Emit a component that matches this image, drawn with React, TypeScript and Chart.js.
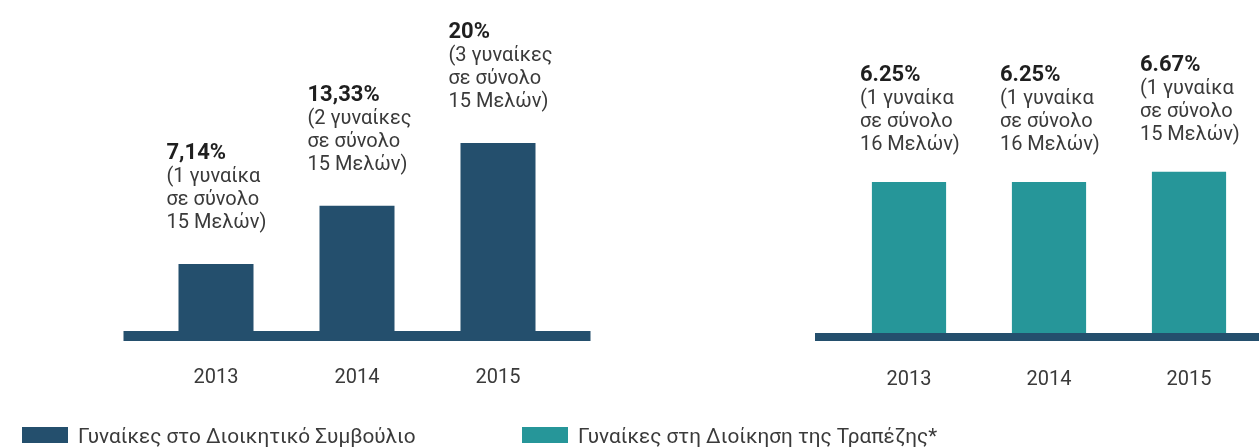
import React, { useEffect, useRef } from "react";
import { Chart, registerables } from "chart.js";

Chart.register(...registerables);

// ---------- data ----------
const years = ["2013", "2014", "2015"];

const boardValues = [7.14, 13.33, 20];
const boardPctLabels = ["7,14%", "13,33%", "20%"];
const boardNotes = [
  ["(1 γυναίκα", "σε σύνολο", "15 Μελών)"],
  ["(2 γυναίκες", "σε σύνολο", "15 Μελών)"],
  ["(3 γυναίκες", "σε σύνολο", "15 Μελών)"],
];

const mgmtValues = [6.25, 6.25, 6.67];
const mgmtPctLabels = ["6.25%", "6.25%", "6.67%"];
const mgmtNotes = [
  ["(1 γυναίκα", "σε σύνολο", "16 Μελών)"],
  ["(1 γυναίκα", "σε σύνολο", "16 Μελών)"],
  ["(1 γυναίκα", "σε σύνολο", "15 Μελών)"],
];

const seriesNames = [
  "Γυναίκες στο Διοικητικό Συμβούλιο",
  "Γυναίκες στη Διοίκηση της Τραπέζης*",
];

// ---------- styles ----------
const BOARD_COLOR = "#244f6d";
const MGMT_COLOR = "#269699";
const BASE_COLOR = "#244f6d";
const TEXT_COLOR = "#3a3a3a";
const FONT = "Roboto, 'Noto Sans', sans-serif";

const annotatePlugin = {
  id: "annotate",
  afterDatasetsDraw(chart: any, _args: any, opts: any) {
    const ctx = chart.ctx;
    const { left, right, bottom } = chart.chartArea;
    ctx.save();
    ctx.fillStyle = opts.baseColor;
    ctx.fillRect(left - opts.ext, bottom, right - left + opts.ext * 2, opts.baseWidth);
    const meta = chart.getDatasetMeta(0);
    meta.data.forEach((bar: any, i: number) => {
      const { x, y, width } = bar.getProps(["x", "y", "width"], true);
      const tx = x - width / 2 - 12;
      let by = y - opts.gap;
      const lines: string[] = opts.notes[i];
      ctx.textAlign = "left";
      ctx.textBaseline = "alphabetic";
      ctx.font = `400 20px ${FONT}`;
      ctx.fillStyle = TEXT_COLOR;
      for (let k = lines.length - 1; k >= 0; k--) {
        ctx.fillText(lines[k], tx, by);
        by -= 23;
      }
      ctx.font = `700 22px ${FONT}`;
      ctx.fillStyle = "#1f1f1f";
      ctx.fillText(opts.pct[i], tx, by);
    });
    ctx.restore();
  },
};

function makeChart(
  canvas: HTMLCanvasElement,
  values: number[],
  color: string,
  max: number,
  padding: any,
  barPct: number,
  annot: any
) {
  return new Chart(canvas, {
    type: "bar",
    data: {
      labels: years,
      datasets: [
        {
          data: values,
          backgroundColor: color,
          borderWidth: 0,
          barPercentage: barPct,
          categoryPercentage: 1,
        },
      ],
    },
    options: {
      responsive: false,
      animation: false,
      layout: { padding },
      plugins: {
        legend: { display: false },
        tooltip: { enabled: false },
        annotate: annot,
      } as any,
      scales: {
        x: {
          grid: { display: false, drawTicks: false },
          border: { display: false },
          ticks: {
            color: TEXT_COLOR,
            font: { family: FONT, size: 20 },
            padding: 35,
          },
        },
        y: { display: false, min: 0, max },
      },
    },
    plugins: [annotatePlugin as any],
  });
}

export default function App() {
  const leftRef = useRef<HTMLCanvasElement>(null);
  const rightRef = useRef<HTMLCanvasElement>(null);

  useEffect(() => {
    const c1 = makeChart(
      leftRef.current!,
      boardValues,
      BOARD_COLOR,
      30,
      { left: 145.5, right: 41.5, top: 49, bottom: 0 },
      0.532,
      { notes: boardNotes, pct: boardPctLabels, gap: 36, ext: 22, baseWidth: 10, baseColor: BASE_COLOR }
    );
    const c2 = makeChart(
      rightRef.current!,
      mgmtValues,
      MGMT_COLOR,
      12,
      { left: 39, right: 0, top: 43, bottom: 0 },
      0.53,
      { notes: mgmtNotes, pct: mgmtPctLabels, gap: 32, ext: 24, baseWidth: 8, baseColor: BASE_COLOR }
    );
    return () => {
      c1.destroy();
      c2.destroy();
    };
  }, []);

  const legendText: React.CSSProperties = {
    position: "absolute",
    top: 426,
    font: `400 20.75px ${FONT}`,
    lineHeight: "20px",
    color: TEXT_COLOR,
    whiteSpace: "nowrap",
  };

  return (
    <div
      style={{
        position: "fixed",
        left: 0,
        top: 0,
        width: 1259,
        height: 447,
        background: "#fff",
        overflow: "hidden",
      }}
    >
      <canvas ref={leftRef} width={610} height={425} style={{ position: "absolute", left: 0, top: 0 }} />
      <canvas ref={rightRef} width={459} height={427} style={{ position: "absolute", left: 800, top: 0 }} />
      <div style={{ position: "absolute", left: 22, top: 427, width: 46, height: 16, background: BOARD_COLOR }} />
      <div style={{ ...legendText, left: 78 }}>{seriesNames[0]}</div>
      <div style={{ position: "absolute", left: 522, top: 427, width: 46, height: 16, background: MGMT_COLOR }} />
      <div style={{ ...legendText, left: 578 }}>{seriesNames[1]}</div>
    </div>
  );
}
